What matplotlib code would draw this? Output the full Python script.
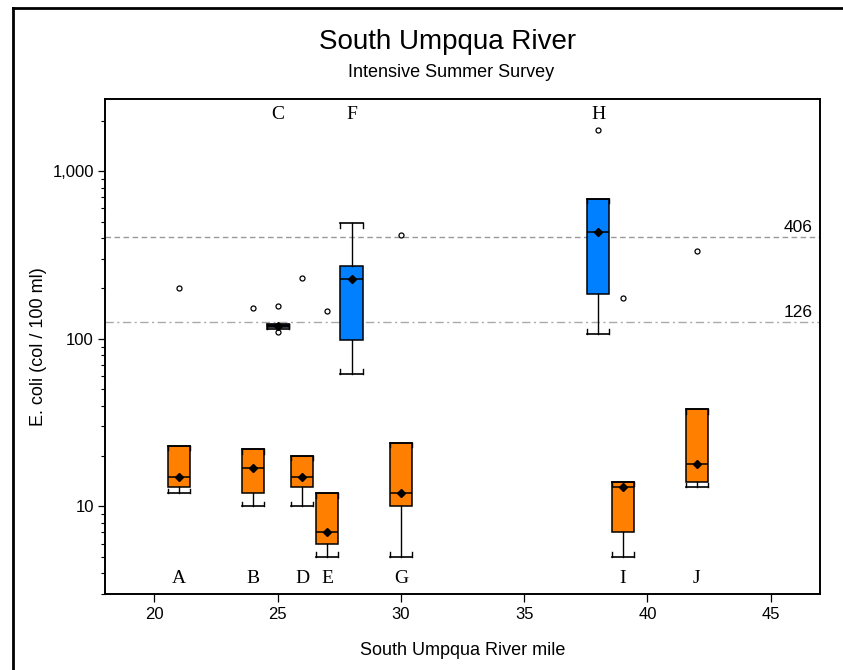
import numpy as np
import matplotlib
matplotlib.use("Agg")
import matplotlib.pyplot as plt
from matplotlib.lines import Line2D
from matplotlib.ticker import FixedLocator, FixedFormatter, LogLocator, NullFormatter
import matplotlib.transforms as mtransforms

# sampling sites along the river (river mile) and their E. coli summaries
sites = ["A", "B", "C", "D", "E", "F", "G", "H", "I", "J"]
miles = [21, 24, 25, 26, 27, 28, 30, 38, 39, 42]
whislo = [12, 10, 115, 10, 5, 62, 5, 107, 5, 13]
q1 = [13, 12, 117, 13, 6, 98, 10, 186, 7, 14]
med = [15, 17, 119, 15, 7, 227, 12, 434, 13, 18]
mean = [15, 17, 119, 15, 7, 227, 12, 434, 13, 18]
q3 = [23, 22, 121, 20, 12, 274, 24, 684, 14, 38]
whishi = [23, 22, 123, 20, 12, 490, 24, 684, 14, 38]
fliers = [[201], [153], [158, 110], [231], [147], [], [419], [1775], [175], [334]]
# sites above the standard get the blue boxes, labelled at the top
exceed = [False, False, True, False, False, True, False, True, False, False]

criteria = [406, 126]
yticks = [10, 100, 1000]
ytick_labels = ["10", "100", "1,000"]
xticks = [20, 25, 30, 35, 40, 45]

orange = "#FF8000"
blue = "#0080FF"

plt.rcParams["font.family"] = ["Liberation Sans", "DejaVu Sans"]

fig = plt.figure(figsize=(8.43, 6.70), dpi=100)
ax = fig.add_axes([0.1246, 0.1134, 0.8481, 0.7388])

stats = []
for i in range(len(sites)):
    stats.append(dict(med=med[i], q1=q1[i], q3=q3[i], whislo=whislo[i],
                      whishi=whishi[i], mean=mean[i], fliers=fliers[i],
                      label=sites[i]))

width = 0.9
bp = ax.bxp(stats, positions=miles, widths=width, capwidths=width,
            patch_artist=True, showmeans=True, manage_ticks=False,
            boxprops=dict(edgecolor="black", linewidth=1.1),
            medianprops=dict(color="black", linewidth=1.1),
            whiskerprops=dict(color="black", linewidth=1.0),
            capprops=dict(color="black", linewidth=1.2),
            meanprops=dict(marker="D", markerfacecolor="black",
                           markeredgecolor="black", markersize=4.5),
            flierprops=dict(marker="o", markerfacecolor="white",
                            markeredgecolor="black", markersize=3.6,
                            markeredgewidth=0.9))
for patch, hi in zip(bp["boxes"], exceed):
    patch.set_facecolor(blue if hi else orange)

# little end ticks on each whisker cap, pointing back towards the box
ax.set_yscale("log")
ax.set_ylim(3, 2700)
ax.set_xlim(18, 47)
tick = 10 ** (4.5 / 167.5)
for x, lo, hi in zip(miles, whislo, whishi):
    for xe in (x - width / 2, x + width / 2):
        ax.plot([xe, xe], [lo, lo * tick], color="black", lw=1.0)
        ax.plot([xe, xe], [hi, hi / tick], color="black", lw=1.0)

# recreation criteria
ax.axhline(criteria[0], color="#999999", lw=1.0, ls=(0, (4, 2.5)), zorder=0)
ax.axhline(criteria[1], color="#aaaaaa", lw=1.0, ls=(0, (6, 2.5, 1.5, 2.5)), zorder=0)
for c in criteria:
    ax.text(46.7, c * 1.03, str(c), ha="right", va="bottom", fontsize=12.5)

# site letters, top for the blue boxes and bottom for the orange ones
trans = mtransforms.blended_transform_factory(ax.transData, ax.transAxes)
for s, x, hi in zip(sites, miles, exceed):
    ax.text(x, 0.968 if hi else 0.032, s, transform=trans, ha="center",
            va="center", fontsize=14, family=["Liberation Serif", "DejaVu Serif"])

ax.yaxis.set_major_locator(FixedLocator(yticks))
ax.yaxis.set_major_formatter(FixedFormatter(ytick_labels))
ax.yaxis.set_minor_locator(LogLocator(base=10, subs=np.arange(2, 10)))
ax.yaxis.set_minor_formatter(NullFormatter())
ax.set_xticks(xticks)
ax.tick_params(axis="both", which="major", direction="out", length=5,
               width=0.9, labelsize=12, pad=3, colors="black")
ax.tick_params(axis="y", which="minor", direction="out", length=2.6, width=0.8)
ax.tick_params(axis="x", which="major", length=6)
for sp in ax.spines.values():
    sp.set_linewidth(1.4)

ax.set_xlabel("South Umpqua River mile", fontsize=13, labelpad=15)
ax.set_ylabel("E. coli (col / 100 ml)", fontsize=13, labelpad=4)

fig.text(0.531, 0.9265, "South Umpqua River", ha="center", va="baseline", fontsize=20)
fig.text(0.535, 0.8855, "Intensive Summer Survey", ha="center", va="baseline", fontsize=13)

# outer frame
fx = 12.5 / 843
fy = 1 - 7.5 / 670
fig.add_artist(Line2D([fx, fx], [0, fy], transform=fig.transFigure, color="black", lw=2))
fig.add_artist(Line2D([fx, 1], [fy, fy], transform=fig.transFigure, color="black", lw=2))

fig.savefig("out.png", dpi=100)
